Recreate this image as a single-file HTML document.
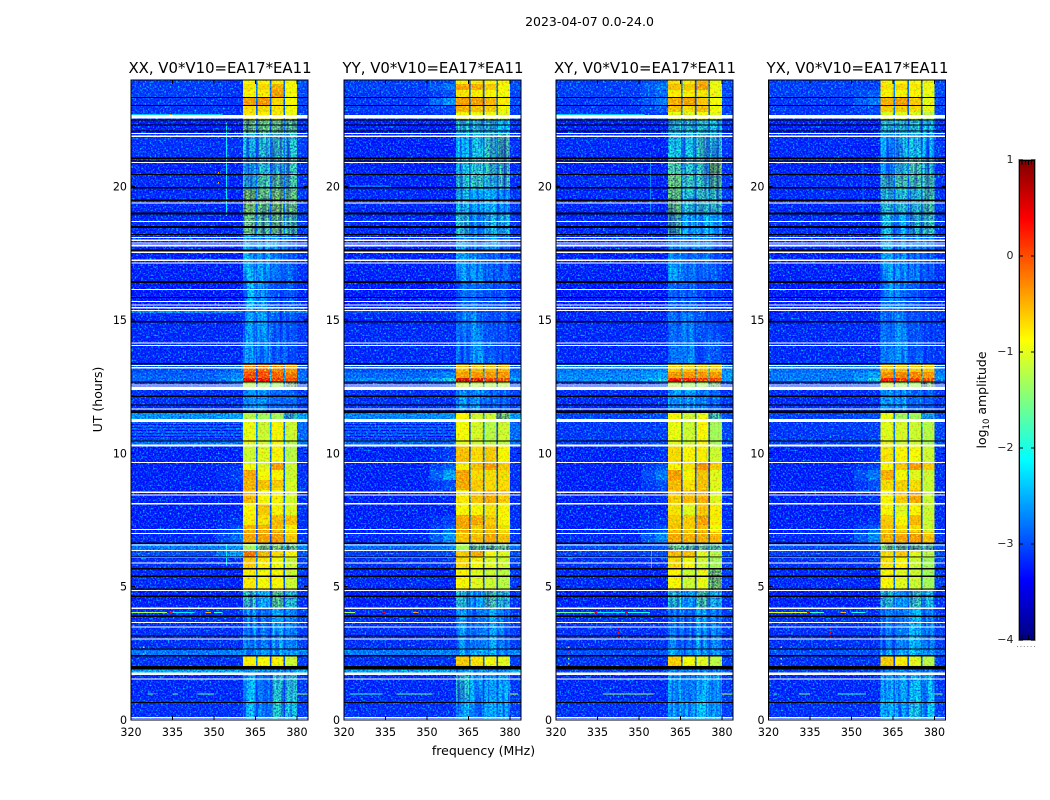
<!DOCTYPE html>
<html lang="en">
<head>
<meta charset="utf-8">
<title>2023-04-07 0.0-24.0 amplitude spectrograms</title>
<style>
  html, body { margin: 0; padding: 0; background: #fff; }
  body { width: 1050px; height: 800px; overflow: hidden; }
  svg { display: block; font-family: "DejaVu Sans", "Liberation Sans", sans-serif; fill: #000; }
  .grain { mix-blend-mode: screen; }
  .shade { mix-blend-mode: multiply; }
</style>
</head>
<body>
<svg id="figure" xmlns="http://www.w3.org/2000/svg" width="1050" height="800" viewBox="0 0 1050 800">
  <defs>
    <filter id="speckle" x="0" y="0" width="100%" height="100%" color-interpolation-filters="sRGB">
      <feTurbulence type="fractalNoise" baseFrequency="0.6" numOctaves="1" seed="7"/>
      <feColorMatrix type="matrix" values="0 0 0 0 0  2.6 0 0 0 -1.2  0 0 0 0 0  0 0 0 0 1"/>
    </filter>
    <filter id="speckle-dark" x="0" y="0" width="100%" height="100%" color-interpolation-filters="sRGB">
      <feTurbulence type="fractalNoise" baseFrequency="0.6" numOctaves="1" seed="11"/>
      <feColorMatrix type="matrix" values="1.8 0 0 0 -0.1  1.8 0 0 0 -0.1  0.3 0 0 0 0.85  0 0 0 0 1"/>
    </filter>
    <filter id="channel-streaks" x="0" y="0" width="100%" height="100%" color-interpolation-filters="sRGB">
      <feTurbulence type="fractalNoise" baseFrequency="0.3 0.015" numOctaves="2" seed="3"/>
      <feColorMatrix type="matrix" values="1.6 0 0 0 0.05  1.6 0 0 0 0.05  0 0 0 0 1  0 0 0 0 1"/>
    </filter>
    <filter id="speckle-warm" x="0" y="0" width="100%" height="100%" color-interpolation-filters="sRGB">
      <feTurbulence type="fractalNoise" baseFrequency="0.5" numOctaves="1" seed="19"/>
      <feColorMatrix type="matrix" values="1 0 0 0 0.5  0 1 0 0 0.5  0 0 0 0 1  0 0 0 0 1"/>
    </filter>
  </defs>
  <rect width="1050" height="800" fill="#fff"/>
  <text x="589.5" y="26" font-size="12.5" text-anchor="middle">2023-04-07 0.0-24.0</text>
  <text x="220" y="73" font-size="14.9" text-anchor="middle">XX, V0*V10=EA17*EA11</text>
  <text x="433" y="73" font-size="14.9" text-anchor="middle">YY, V0*V10=EA17*EA11</text>
  <text x="645" y="73" font-size="14.9" text-anchor="middle">XY, V0*V10=EA17*EA11</text>
  <text x="857.5" y="73" font-size="14.9" text-anchor="middle">YX, V0*V10=EA17*EA11</text>
  <text x="483.5" y="755" font-size="12.5" text-anchor="middle">frequency (MHz)</text>
  <text transform="translate(102 399.5) rotate(-90)" font-size="12.5" text-anchor="middle">UT (hours)</text>
  <text transform="translate(986 400) rotate(-90)" font-size="12.5" text-anchor="middle">log<tspan font-size="8.5" dy="3">10</tspan><tspan dy="-3"> amplitude</tspan></text>
  <g id="panels"></g>
  <g id="colorbar"></g>
</svg>
<script>
// ---- chart data ----
const products = ['xx', 'yy', 'xy', 'yx'];
const xTicks = [320, 335, 350, 365, 380];
const yTicks = [0, 5, 10, 15, 20];
const colorTicks = [1, 0, -1, -2, -3, -4];

// frequency channel-group edges (MHz): background, shoulder ramp, shoulder, 4 windows split by gaps, edge
const freqEdges = [320, 351, 356, 360.5, 365.2, 365.8, 370.2, 370.8, 375.1, 375.7, 380, 384];

// time-slice edges (hours, top to bottom)
const timeEdges = [24, 23.85, 23.63, 23.36, 23.06, 22.8, 22.54, 22.01, 21, 20.4, 19.88, 18.98, 18.23, 17.63, 16.43, 15.38, 15.26, 13.35, 13.05, 12.83, 12.68, 12.38, 11.55, 11.29, 10.46, 10.28, 9.68, 9.38, 9, 8.63, 8.14, 7.69, 7.31, 7.05, 6.64, 6.34, 6.11, 5.7, 4.88, 4.2, 2.63, 2.4, 2.03, 1.76, 0.75, 0];

// log10 amplitude per time slice: [background, shoulder, window1, window2, window3, window4]
const ampXX = [
  [-3.1,-3.2,-.85,-.85,-.8,-.9],[-3.1,-3.2,-.75,-.7,-.45,-.9],[-3.1,-3.2,-.85,-.8,-.35,-.9],[-3.15,-3.2,-.35,-.3,-.7,-.85],
  [-3.15,-3.2,-.7,-.7,-.75,-.9],[-3.15,-3.2,-.75,-.8,-.8,-.95],[-3.3,-3.3,-1.5,-1.5,-1.5,-1.6],[-3.2,-3.2,-2,-1.9,-1.8,-1.9],
  [-3.3,-3.3,-2,-1.9,-1.9,-1.8],[-3.25,-3.3,-1.9,-1.7,-1.6,-1.7],[-3.25,-3.3,-1.4,-1.5,-1.4,-1.5],[-3.25,-3.3,-1.5,-1.6,-1.5,-1.7],
  [-3.25,-3.3,-2.3,-2.3,-2.4,-2.6],[-3.3,-3.3,-2.1,-2.3,-2.6,-2.8],[-3.35,-3.35,-2.2,-2.4,-2.9,-2.9],[-2.5,-2.5,-2.4,-2.4,-2.5,-2.5],
  [-3.25,-3.25,-2.3,-2.3,-2.8,-2.85],[-3,-2.8,-.1,-.05,-.2,-.3],[-2.9,-2.6,.1,.1,0,-.1],[-2.8,-2.3,.4,.4,.2,.1],
  [-3.2,-3,-1.2,-1.3,-1.3,-1.4],[-3.2,-3.2,-2.4,-2.3,-2.7,-2.7],[-2.5,-2.4,-1.2,-1.3,-1.3,-1.8],[-2.9,-2.9,-.95,-1.1,-.85,-1.1],
  [-2.75,-2.7,-1,-1.1,-.9,-1.2],[-3.3,-3.3,-1.1,-1,-.85,-1.2],[-3.3,-3.2,-.9,-1,-.35,-1.1],[-3.3,-3.1,-.4,-.9,-.85,-1.1],
  [-3.3,-3.2,-.45,-.55,-.6,-1.05],[-3.3,-3.3,-.5,-.85,-.85,-1.05],[-3.3,-3.3,-.85,-.6,-.85,-1],[-3.3,-3.2,-.8,-.75,-.5,-.55],
  [-3.3,-3,-.45,-.45,-.55,-.8],[-3.25,-2.8,-.35,-.35,-.35,-.6],[-2.7,-2.5,-1.3,-1.4,-1.4,-1.5],[-3,-2.4,-.1,-.5,-.7,-.85],
  [-3.2,-3.2,-.6,-.8,-.9,-1.1],[-3.25,-3.3,-.8,-.9,-.85,-1.1],[-3.3,-3.3,-1.8,-2.1,-1.6,-1.9],[-3.2,-3.2,-2.2,-2.6,-2.2,-2.5],
  [-2.7,-2.6,-2.4,-2.4,-2.2,-2.3],[-3.2,-3.2,-.8,-.9,-.85,-1.1],[-2.35,-2.35,-2.3,-2.3,-2.3,-2.35],[-3.25,-3.25,-2.2,-2.6,-1.9,-1.9],
  [-3.2,-3.2,-2.1,-2.6,-1.9,-2]
];
const ampYY = [
  [-3.1,-3,-.85,-.8,-.85,-.85],[-3.1,-2.7,-.4,-.45,-.6,-.85],[-3.15,-3,-.75,-.8,-.85,-.9],[-3.15,-2.5,-.35,-.35,-.5,-.8],
  [-3.15,-3,-.45,-.55,-.6,-.85],[-3.2,-3.1,-.9,-.95,-.95,-1],[-3.3,-3.3,-1.9,-1.9,-1.9,-2.1],[-3.3,-3.3,-2.1,-2,-1.8,-1.7],
  [-3.3,-3.3,-2,-1.9,-1.8,-1.8],[-3.3,-3.3,-1.9,-1.8,-1.9,-1.8],[-3.25,-3.3,-2,-2.2,-2.1,-2.4],[-3.25,-3.3,-1.9,-2.3,-2,-2],
  [-3.3,-3.3,-2.3,-2.5,-2.4,-2.6],[-3.3,-3.3,-2.3,-2.4,-2.8,-2.8],[-3.35,-3.35,-2.7,-2.7,-2.9,-2.9],[-3,-3,-2.7,-2.7,-2.9,-2.9],
  [-3.25,-3.25,-2.6,-2.4,-2.9,-2.9],[-3,-2.9,-.5,-.5,-.5,-.5],[-2.8,-2.6,-.35,-.3,-.3,-.3],[-2.6,-2,.55,.4,.15,.1],
  [-3.2,-3,-1.1,-1.2,-1.2,-1.2],[-3.2,-3.2,-2.3,-2.4,-2.7,-2.7],[-2.6,-2.5,-.85,-1.1,-1.1,-1.4],[-2.9,-2.9,-.9,-1.05,-1.2,-1.1],
  [-2.8,-2.8,-1,-1.1,-1.2,-1.2],[-3.3,-3.1,-.55,-.7,-.6,-.85],[-3.3,-2.9,-.8,-.55,-.35,-.6],[-3.3,-2.4,-.4,-.7,-.7,-.7],
  [-3.3,-3,-.4,-.6,-.7,-.7],[-3.3,-3.3,-.8,-.55,-.4,-.6],[-3.3,-3.3,-.85,-.85,-.75,-.85],[-3.3,-3.1,-.4,-.4,-.6,-.85],
  [-3.3,-2.9,-.4,-.6,-.5,-.7],[-3.25,-2.5,-.55,-.55,-.4,-.55],[-2.8,-2.6,-1.3,-1.5,-1.5,-1.5],[-3.1,-3,-.6,-.45,-.9,-1],
  [-3.2,-3.2,-.7,-.9,-1,-1.1],[-3.25,-3.3,-.85,-1,-1.1,-1.2],[-3.3,-3.3,-1.9,-2.3,-1.7,-1.9],[-3.2,-3.2,-2.3,-2.7,-2.3,-2.6],
  [-2.7,-2.6,-2.1,-2.2,-2.2,-2.4],[-3.2,-3.2,-.6,-.75,-.9,-1],[-2.35,-2.35,-2.3,-2.3,-2.3,-2.35],[-3.25,-3.25,-1.9,-2.2,-2.4,-2.2],
  [-3.2,-3.2,-2.1,-2.3,-2.3,-2.3]
];
const ampXY = [
  [-3.1,-2.9,-.75,-.8,-.5,-.95],[-3.1,-2.7,-.55,-.6,-.35,-.95],[-3.1,-2.8,-.8,-.8,-.75,-.95],[-3.15,-2.7,-.45,-.35,-.6,-.9],
  [-3.15,-2.9,-.55,-.7,-.5,-.9],[-3.15,-3.1,-.95,-1,-.9,-1],[-3.3,-3.3,-1.9,-1.9,-1.9,-2],[-3.25,-3.3,-2,-2,-1.8,-1.9],
  [-3.3,-3.3,-1.7,-1.9,-1.8,-1.4],[-3.25,-3.3,-1.5,-1.8,-1.8,-1.6],[-3.25,-3.3,-1.5,-1.9,-1.8,-1.8],[-3.25,-3.3,-1.7,-2.2,-2.1,-2.2],
  [-3.25,-3.3,-2.3,-2.5,-2.5,-2.6],[-3.3,-3.3,-2.3,-2.6,-2.7,-2.8],[-3.35,-3.35,-2.8,-2.8,-3,-3],[-3.3,-3.3,-2.9,-2.9,-3,-3],
  [-3.25,-3.25,-2.7,-2.5,-2.9,-2.9],[-2.7,-2.6,-.6,-.6,-.55,-.6],[-2.6,-2.4,-.3,-.3,-.3,-.3],[-2.5,-2,.4,.3,.2,.1],
  [-3.2,-3,-1.2,-1.3,-1.3,-1.4],[-3.25,-3.2,-2.3,-2.3,-2.5,-2.7],[-3.1,-3,-.85,-1.1,-.95,-1.7],[-3.15,-3.1,-.95,-1.1,-.85,-1.3],
  [-3.1,-3,-1,-1.1,-.9,-1.3],[-3.3,-3.2,-.7,-.85,-.8,-1.1],[-3.3,-3,-.85,-.75,-.3,-.6],[-3.3,-2.7,-.35,-.85,-.55,-1],
  [-3.3,-3,-.5,-.75,-.55,-1],[-3.3,-3.2,-.6,-.5,-.45,-1],[-3.3,-3.3,-.75,-1,-.6,-.8],[-3.3,-3.2,-.6,-.6,-.35,-.8],
  [-3.3,-3,-.55,-.6,-.55,-.9],[-3.25,-2.6,-.4,-.45,-.45,-.5],[-3,-2.9,-1.5,-1.6,-1.5,-1.6],[-3.1,-3,-.5,-.5,-1,-1.2],
  [-3.2,-3.2,-.7,-.9,-1.1,-1.3],[-3.25,-3.3,-.85,-1.1,-.95,-1.4],[-3.3,-3.3,-1.9,-2.3,-1.7,-2],[-3.2,-3.2,-2.5,-2.6,-2.2,-2.5],
  [-3,-3,-2.2,-2.3,-2.1,-2.4],[-3.2,-3.2,-.65,-.9,-1,-1.2],[-3.1,-3.1,-2.5,-2.5,-2.5,-2.5],[-3.25,-3.25,-2.3,-2.6,-2.2,-2.2],
  [-3.2,-3.2,-2.2,-2.4,-2.1,-2.2]
];
const ampYX = [
  [-3.1,-3.1,-.85,-.85,-.9,-.95],[-3.1,-3.1,-.75,-.7,-.8,-.95],[-3.1,-2.9,-.85,-.85,-.85,-.95],[-3.15,-2.7,-.45,-.35,-.6,-.95],
  [-3.15,-3,-.6,-.6,-.7,-.95],[-3.15,-3.1,-1,-1,-1,-1.2],[-3.3,-3.3,-1.9,-1.9,-1.9,-2],[-3.25,-3.3,-2.2,-2,-2,-2.1],
  [-3.3,-3.3,-2.2,-1.9,-1.7,-1.9],[-3.25,-3.3,-1.8,-1.7,-1.7,-1.7],[-3.25,-3.3,-1.9,-1.9,-1.9,-1.7],[-3.25,-3.3,-2,-2.2,-1.9,-1.8],
  [-3.25,-3.3,-2.3,-2.4,-2.4,-2.6],[-3.3,-3.3,-2.3,-2.4,-2.6,-2.8],[-3.35,-3.35,-2.3,-2.5,-2.9,-3],[-3.3,-3.3,-2.5,-2.6,-3,-3],
  [-3.25,-3.25,-2.6,-2.4,-2.9,-3],[-2.8,-2.7,-.5,-.55,-.6,-.6],[-2.7,-2.4,-.25,-.2,-.2,-.3],[-2.7,-2,.3,.25,.15,.1],
  [-3.2,-3,-1.1,-1.3,-1.3,-1.4],[-3.25,-3.2,-2.3,-2.3,-2.7,-2.8],[-3.1,-3,-.95,-1.3,-1.3,-2],[-3.15,-3.1,-1,-1.05,-1.1,-1.2],
  [-3.1,-3,-1,-1.1,-1.1,-1.3],[-3.3,-3.2,-.75,-.85,-.9,-1.1],[-3.3,-3.1,-.85,-.6,-.35,-.6],[-3.3,-2.7,-.45,-.9,-1,-1.1],
  [-3.3,-3,-.7,-.65,-.7,-1.1],[-3.3,-3.2,-.85,-.6,-.4,-1.1],[-3.3,-3.3,-.85,-1,-.85,-1.1],[-3.3,-3.2,-.6,-.85,-.5,-1.1],
  [-3.3,-2.9,-.55,-.7,-.7,-1.1],[-3.25,-2.6,-.45,-.4,-.35,-.55],[-3,-2.9,-1.4,-1.5,-1.5,-1.6],[-3.1,-3,-.7,-.6,-1,-1.2],
  [-3.2,-3.2,-.75,-.85,-1.1,-1.3],[-3.25,-3.3,-.85,-1,-1.1,-1.3],[-3.3,-3.3,-1.9,-2.3,-1.8,-2],[-3.2,-3.2,-2.5,-2.6,-2.2,-2.5],
  [-3,-3,-2.1,-2.2,-2.1,-2.3],[-3.2,-3.2,-.6,-.8,-1,-1.2],[-3.1,-3.1,-2.5,-2.5,-2.5,-2.5],[-3.25,-3.25,-2.3,-2.3,-2.1,-2.1],
  [-3.2,-3.2,-2.2,-2.3,-2,-2.1]
];
const panelData = [ampXX, ampYY, ampXY, ampYX];

// flagged integrations, [hour, duration in hours]; black = no data, white = masked
const blackFlags = [[23.35,.04],[23.05,.04],[22.5,.05],[22.31,.04],[22.09,.04],[21.06,.06],[20.96,.04],[20.46,.04],[19.96,.07],[19.49,.05],[18.99,.07],[18.49,.07],[18.21,.04],[17.61,.07],[16.43,.07],[15.85,.04],[14.93,.05],[13.36,.04],[12.68,.04],[12.14,.04],[11.82,.04],[11.56,.085],[10.47,.04],[6.63,.06],[6.11,.04],[5.67,.05],[5.39,.04],[4.92,.04],[4.64,.04],[3.89,.04],[3.15,.04],[2.67,.04],[2.41,.04],[1.96,.125],[.66,.04]];
const whiteFlags = [[22.62,.125],[22,.04],[21.89,.04],[20.91,.04],[19.39,.04],[18.7,.04],[18.1,.04],[17.99,.04],[17.88,.04],[17.79,.07],[17.54,.04],[17.24,.04],[17.13,.04],[16.15,.04],[15.69,.04],[15.56,.04],[15.46,.04],[15.36,.04],[14.14,.04],[14.04,.04],[13.29,.04],[13.21,.04],[12.56,.04],[12.44,.125],[11.67,.04],[11.23,.11],[10.3,.07],[9.66,.04],[8.54,.04],[8.43,.04],[8.11,.04],[7.15,.04],[7,.04],[6.57,.04],[6.35,.04],[6.09,.04],[5.89,.04],[4.86,.04],[4.19,.04],[3.66,.04],[3.48,.04],[3.03,.04],[1.73,.1],[1.53,.04],[.09,.04],[.04,.03]];

// interference streaks: [panel, start MHz, end MHz, hour, log10 amplitude]
const rfiStreaks = [
  [0,320,333,4.05,-1.3],[0,334,335,4.05,.3],[0,335,343,4.05,-2.2],[0,347,349,4.05,-.5],[0,350,353,4.05,-1.9],
  [1,320,324,4.05,-1.3],[1,334,335,4.05,.3],[1,345,347,4.05,-.4],
  [2,320,334,4.05,-1.6],[2,334,335,4.05,.4],[2,335,345,4.05,-2.2],[2,345,346,4.05,.4],[2,346,354,4.05,-2],
  [3,320,334,4.05,-1],[3,334,335,4.05,.5],[3,335,340,4.05,-1.8],[3,346,348,4.05,-.5],[3,350,355,4.05,-2],
  [0,326,328,1,-1.6],[0,335,337,1,-1.6],[0,344,350,1,-1.7],[0,380,384,1,-1.3],
  [1,322,334,1,-1.9],[1,339,352,1,-1.7],[1,380,383,1,-1.2],
  [2,337,355,1,-1.4],[2,380,384,1,-1.2],
  [3,322,323,1,-1.8],[3,331,335,1,-1.5],[3,345,355,1,-1.9],[3,380,383,1,-1.4],
  [0,320,353,22.72,-2.4],[2,320,352,22.72,-2.4],[1,322,336,20.05,-2.6]
];
// vertical channels: [panel, MHz, start hour, end hour, log10 amplitude]
const rfiChannels = [[0,354.3,18.9,22.4,-2.2],[0,354.3,5.8,6.6,-2.2],[2,354.3,5.7,6.4,-2.4],[2,354,19,21,-2.7],[3,354,19,21,-2.8]];
// isolated hot samples: [panel, MHz, hour, log10 amplitude]
const rfiPoints = [
  [0,351.4,20.55,-.5],[0,351.4,20.17,-.5],[0,334,22.72,-.3],[0,324.4,2.75,-.7],[0,324.4,2.5,-.9],
  [2,324.4,2.75,-.6],[2,324.4,2.59,.3],[2,324.4,2.44,.3],[2,324.4,2.33,-1.4],[2,324.4,2.14,-.5],
  [3,324.4,2.75,-.6],[3,324.4,2.59,.3],[3,324.4,2.44,.3],[3,324.4,2.33,-1.4],[3,324.4,2.14,-.5],
  [2,342.3,3.49,.4],[2,342.3,3.3,.4],[2,342.3,3.15,.4],[3,342.3,3.49,.4],[3,342.3,3.3,.4],[3,342.3,3.15,.4]
];
// faint striping hours in the low band: [panel, hour]
const dimStripes = [[0,11.1],[0,10.98],[0,10.87],[0,10.76],[0,10.65],[0,10.55],[1,11.1],[1,10.98],[1,10.87],[1,10.76],[1,10.65],[1,10.55]];

// ---- layout ----
const NS = 'http://www.w3.org/2000/svg';
const panelLeft = [131, 344, 556, 768.5];
const panelWidth = 177, panelTop = 80, panelBottom = 720;
const cbarX = 1019, cbarW = 16, cbarTop = 160, cbarBottom = 640;
const lowAmpLimit = -1.3;
const xScale = (p, f) => panelLeft[p] + (f - 320) * panelWidth / 64;
const yScale = h => panelBottom - h * (panelBottom - panelTop) / 24;
const cbarY = v => cbarBottom - (v + 4) * (cbarBottom - cbarTop) / 5;

function jet(v) {
  const f = Math.min(1, Math.max(0, (v + 4) / 5));
  const c = x => Math.round(255 * Math.min(1, Math.max(0, 1.5 - Math.abs(4 * f - x))));
  return 'rgb(' + c(3) + ',' + c(2) + ',' + c(1) + ')';
}
function mk(tag, parent, attrs) {
  const e = document.createElementNS(NS, tag);
  for (const k in attrs) e.setAttribute(k, attrs[k]);
  parent.appendChild(e);
  return e;
}

const panelsRoot = document.getElementById('panels');
const defs = document.querySelector('defs');

products.forEach((name, p) => {
  const left = panelLeft[p], right = left + panelWidth;
  const boxAttrs = { x: left, y: panelTop, width: panelWidth, height: panelBottom - panelTop };

  const clip = mk('clipPath', defs, { id: 'clip-' + name });
  mk('rect', clip, boxAttrs);
  const lowClip = mk('clipPath', defs, { id: 'low-' + name });
  const lowWindowClip = mk('clipPath', defs, { id: 'low-window-' + name });

  const g = mk('g', panelsRoot, { 'clip-path': 'url(#clip-' + name + ')', 'shape-rendering': 'crispEdges' });
  
  

  // heatmap cells: one per time slice and channel group
  panelData[p].forEach((row, r) => {
    const [bg, sh, w1, w2, w3, w4] = row;
    const gap = bg + 0.5;
    const colValues = [bg, (bg + sh) / 2, sh, w1, gap, w2, gap, w3, gap, w4, bg + 0.1];
    colValues.forEach((v, c) => {
      const x0 = xScale(p, freqEdges[c]), x1 = xScale(p, freqEdges[c + 1]);
      const y0 = yScale(timeEdges[r]), y1 = yScale(timeEdges[r + 1]);
      const geometry = { x: x0, y: y0, width: x1 - x0, height: y1 - y0 };
      const cell = mk('rect', g, Object.assign({ fill: jet(v) }, geometry));
      
      
      if (v < lowAmpLimit) {
        mk('rect', lowClip, geometry);
        if (c >= 3 && c <= 9) mk('rect', lowWindowClip, geometry);
      }
    });
  });

  dimStripes.filter(s => s[0] === p).forEach(s => {
    const stripe = mk('rect', g, { x: xScale(p, 320), y: yScale(s[1]), width: xScale(p, 360) - xScale(p, 320), height: 1, fill: jet(-3.4) });
    
    
  });

  const warm = mk('rect', g, Object.assign({ class: 'shade', filter: 'url(#speckle-warm)' }, boxAttrs));
  
  

  const grain = mk('rect', g, Object.assign({ class: 'grain', filter: 'url(#speckle)' }, boxAttrs));
  
  

  const shade = mk('rect', g, Object.assign({ class: 'shade', filter: 'url(#speckle-dark)', 'clip-path': 'url(#low-' + name + ')' }, boxAttrs));
  
  

  const streaks = mk('rect', g, Object.assign({ class: 'shade', filter: 'url(#channel-streaks)', 'clip-path': 'url(#low-window-' + name + ')' }, boxAttrs));
  
  

  rfiChannels.filter(s => s[0] === p).forEach(s => {
    const line = mk('rect', g, { x: xScale(p, s[1]), y: yScale(s[3]), width: 1, height: yScale(s[2]) - yScale(s[3]), fill: jet(s[4]) });
    
    
  });
  rfiStreaks.filter(s => s[0] === p).forEach(s => {
    const streak = mk('rect', g, { x: xScale(p, s[1]), y: yScale(s[3]), width: xScale(p, s[2]) - xScale(p, s[1]), height: 1, fill: jet(s[4]) });
    
    
  });
  rfiPoints.filter(s => s[0] === p).forEach(s => {
    const point = mk('rect', g, { x: xScale(p, s[1]), y: yScale(s[2]), width: 1.4, height: 1.4, fill: jet(s[3]) });
    
    
  });

  whiteFlags.forEach(f => {
    const band = mk('rect', g, { x: left, y: yScale(f[0] + f[1] / 2), width: panelWidth, height: Math.max(1, f[1] * 640 / 24), fill: '#fff' });
    
    
  });
  blackFlags.forEach(f => {
    const band = mk('rect', g, { x: left, y: yScale(f[0] + f[1] / 2), width: panelWidth, height: Math.max(1, f[1] * 640 / 24), fill: '#000' });
    
    
  });

  // axes
  const axes = mk('g', panelsRoot, {});
  
  

  const frame = mk('rect', axes, Object.assign({ fill: 'none', stroke: '#000', 'stroke-width': 1, 'shape-rendering': 'crispEdges' }, boxAttrs));
  
  

  xTicks.forEach(t => {
    const x = xScale(p, t);
    [[panelBottom, panelBottom - 4], [panelTop, panelTop + 4]].forEach(pair => {
      const tick = mk('line', axes, { x1: x, x2: x, y1: pair[0], y2: pair[1], stroke: '#000', 'stroke-width': 1, 'shape-rendering': 'crispEdges' });
      
      
    });
    const label = mk('text', axes, { x: x, y: 736, 'font-size': 11.1, 'text-anchor': 'middle' });
    label.textContent = t;
    
    
  });
  yTicks.forEach(t => {
    const y = yScale(t);
    [[left, left + 4], [right, right - 4]].forEach(pair => {
      const tick = mk('line', axes, { x1: pair[0], x2: pair[1], y1: y, y2: y, stroke: '#000', 'stroke-width': 1, 'shape-rendering': 'crispEdges' });
      
      
    });
    const label = mk('text', axes, { x: left - 4, y: y + 4, 'font-size': 11.1, 'text-anchor': 'end' });
    label.textContent = t;
    
    
  });
});

// ---- colorbar ----
const cbar = document.getElementById('colorbar');
const cbarRamp = mk('g', cbar, { 'shape-rendering': 'crispEdges' });


for (let y = cbarTop; y < cbarBottom; y += 2) {
  const v = -4 + (cbarBottom - y - 1) * 5 / (cbarBottom - cbarTop);
  const seg = mk('rect', cbarRamp, { x: cbarX, y: y, width: cbarW, height: 2, fill: jet(v) });
  
  
}
const cbarHalo = mk('rect', cbar, { x: cbarX - 0.5, y: cbarTop - 0.5, width: cbarW + 1, height: cbarBottom - cbarTop + 1, fill: 'none', stroke: '#aaa', 'stroke-width': 1 });


const cbarFrame = mk('rect', cbar, { x: cbarX + 0.5, y: cbarTop + 0.5, width: cbarW - 1, height: cbarBottom - cbarTop - 1, fill: 'none', stroke: '#000', 'stroke-width': 1 });



colorTicks.forEach(t => {
  const y = cbarY(t);
  [[cbarX, cbarX + 4], [cbarX + cbarW, cbarX + cbarW - 4]].forEach(pair => {
    const tick = mk('line', cbar, { x1: pair[0], x2: pair[1], y1: y, y2: y, stroke: '#000', 'stroke-width': 1, 'shape-rendering': 'crispEdges' });
    
    
  });
  const label = mk('text', cbar, { x: cbarX - 5.5, y: y + 3, 'font-size': 11, 'text-anchor': 'end', fill: '#222' });
  label.textContent = String(t).replace('-', '\u2212');
  
  
});

[cbarX + 3, cbarX + 6.3, cbarX + 9.3, cbarX + 12.6].forEach(x => {
  [[cbarTop, cbarTop + 5], [cbarBottom, cbarBottom - 5]].forEach(pair => {
    const minor = mk('line', cbar, { x1: x, x2: x, y1: pair[0], y2: pair[1], stroke: '#000', 'stroke-width': 1, 'shape-rendering': 'crispEdges' });
    
    
  });
});
const dots = mk('line', cbar, { x1: 1017, x2: 1035, y1: 646.5, y2: 646.5, stroke: '#888', 'stroke-width': 1, 'stroke-dasharray': '1 2.4' });


</script>
</body>
</html>
